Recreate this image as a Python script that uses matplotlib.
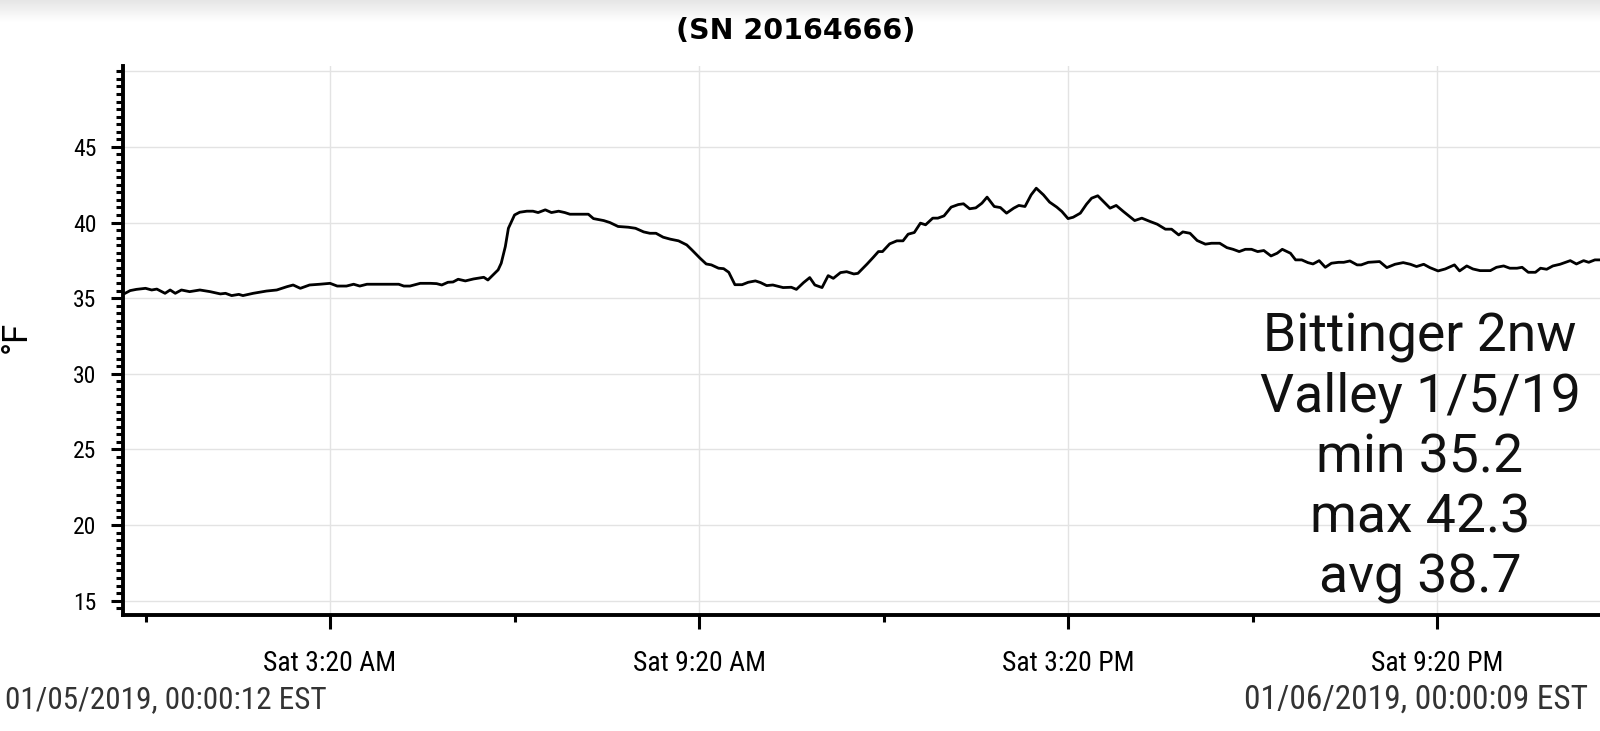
import matplotlib
matplotlib.use("Agg")
import matplotlib.pyplot as plt
import numpy as np
from matplotlib.ticker import FixedLocator, MultipleLocator

# ---------------- data ----------------
# minutes after 00:00 on 01/05/2019
minutes = [0, 5, 11, 20, 26, 31, 39, 44, 49, 55, 63, 73, 83, 93, 98, 104, 111, 115, 125, 138,
           148, 158, 164, 171, 180, 190, 200, 207, 216, 223, 229, 236, 249,
           259, 267, 272, 278, 288, 298, 304, 309, 315, 320, 325, 332, 340, 350, 354, 359, 364,
           367, 371, 374, 380, 385, 392, 398, 403, 410, 416, 423, 429, 434, 444, 452, 457, 467,
           473, 481, 491,
           498, 506, 512, 518, 525, 532, 540, 548, 553, 561, 567, 572, 579, 584, 589, 595, 602,
           608, 615, 620, 626, 632, 642, 650, 655, 662, 668, 673, 680, 686, 691, 698, 704, 711,
           715, 724, 730, 735,
           739, 746, 753, 759, 764, 770, 776, 781, 788, 793, 799, 806, 813, 818, 824, 830, 836,
           841, 848, 854, 860, 867, 872, 878, 884, 889, 896, 902, 909, 914, 920, 925, 932, 938,
           943, 949, 954, 961, 967, 974, 980,
           985, 992, 1000, 1007, 1015, 1021, 1028, 1032, 1039, 1046, 1054, 1060, 1068, 1075,
           1081, 1087, 1093, 1099, 1105, 1111, 1118, 1124, 1129, 1137, 1142, 1148, 1154, 1159,
           1165, 1171, 1177, 1184, 1189, 1195, 1202, 1206, 1213, 1224,
           1231, 1239, 1247, 1254, 1260, 1267, 1273, 1281, 1288, 1297, 1302, 1309, 1315, 1322,
           1332, 1338, 1345, 1351, 1358, 1363, 1369, 1376, 1381, 1387, 1393, 1400, 1410, 1416,
           1423, 1428, 1434, 1439]

temps_f = [35.32, 35.5, 35.58, 35.65, 35.54, 35.6, 35.32, 35.54, 35.32, 35.54, 35.43, 35.54, 35.43,
           35.28, 35.32, 35.17, 35.25, 35.17, 35.32, 35.47, 35.54, 35.76, 35.87, 35.65, 35.87,
           35.92, 35.98, 35.8, 35.8, 35.92, 35.8, 35.92, 35.92,
           35.92, 35.92, 35.8, 35.8, 35.98, 35.98, 35.96, 35.87, 36.05, 36.07, 36.25, 36.14, 36.27,
           36.38, 36.2, 36.53, 36.87, 37.31, 38.41, 39.62, 40.5, 40.68, 40.75, 40.75, 40.66, 40.84,
           40.66, 40.75, 40.66, 40.55, 40.55, 40.55, 40.26, 40.13, 40.0, 39.74, 39.69,
           39.62, 39.38, 39.29, 39.29, 39.03, 38.9, 38.79, 38.52, 38.19, 37.64, 37.26, 37.2, 36.98,
           36.95, 36.71, 35.89, 35.89, 36.05, 36.14, 36.03, 35.83, 35.87, 35.7, 35.72, 35.58, 36.03,
           36.36, 35.87, 35.7, 36.49, 36.31, 36.69, 36.75, 36.6, 36.64, 37.26, 37.7, 38.08,
           38.08, 38.59, 38.79, 38.79, 39.23, 39.34, 39.96, 39.85, 40.29, 40.29, 40.44, 41.02, 41.19,
           41.24, 40.91, 40.97, 41.28, 41.68, 41.06, 40.99, 40.62, 40.95, 41.13, 41.06, 41.83, 42.27,
           41.83, 41.35, 41.02, 40.73, 40.26, 40.35, 40.62, 41.21, 41.61, 41.77, 41.43, 40.95, 41.13,
           40.73, 40.4,
           40.13, 40.29, 40.07, 39.89, 39.56, 39.56, 39.18, 39.38, 39.29, 38.81, 38.57, 38.63, 38.63,
           38.34, 38.23, 38.08, 38.23, 38.23, 38.08, 38.15, 37.79, 37.97, 38.23, 37.97, 37.53, 37.53,
           37.35, 37.26, 37.48, 37.04, 37.31, 37.37, 37.37, 37.46, 37.2, 37.2, 37.37, 37.42,
           37.02, 37.24, 37.35, 37.24, 37.09, 37.24, 37.02, 36.8, 36.93, 37.2, 36.8, 37.13, 36.93,
           36.82, 36.82, 37.04, 37.13, 36.98, 36.98, 37.04, 36.71, 36.71, 36.98, 36.91, 37.13, 37.24,
           37.48, 37.26, 37.48, 37.37, 37.53, 37.53]

major_x_ticks = [200, 560, 920, 1280]
major_x_labels = ["Sat 3:20 AM", "Sat 9:20 AM", "Sat 3:20 PM", "Sat 9:20 PM"]
minor_x_ticks = [20, 380, 740, 1100]
y_ticks = [15, 20, 25, 30, 35, 40, 45]
title = "(SN 20164666)"
y_label = "°F"
annotation = "Bittinger 2nw\nValley 1/5/19\nmin 35.2\nmax 42.3\navg 38.7"
start_label = "01/05/2019, 00:00:12 EST"
end_label = "01/06/2019, 00:00:09 EST"

# ---------------- style ----------------
COND = ["Roboto Condensed", "Liberation Sans Narrow", "Roboto", "DejaVu Sans"]
REG = ["Roboto", "DejaVu Sans"]
plt.rcParams["font.family"] = COND

W, H = 1600, 731
fig = plt.figure(figsize=(W / 100, H / 100), dpi=100)
fig.patch.set_facecolor("white")

# top gray shadow band
band = fig.add_axes([0, 1 - 22 / H, 1, 22 / H])
grad = np.linspace(0.90, 1.0, 50).reshape(-1, 1)
band.imshow(grad, aspect="auto", cmap="gray", vmin=0, vmax=1, extent=[0, 1, 0, 1], origin="upper")
band.axis("off")

ax_l, ax_b = 123 / W, 116 / H
ax = fig.add_axes([ax_l, ax_b, 1 - ax_l, (615 - 66) / H])
ax.set_zorder(2)

ax.plot(minutes, temps_f, color="black", lw=2.0, solid_joinstyle="round", zorder=3)

ax.set_xlim(-2, 1439)
ax.set_ylim(14.05, 50.35)

ax.xaxis.set_major_locator(FixedLocator(major_x_ticks))
ax.set_xticklabels(major_x_labels)
ax.xaxis.set_minor_locator(FixedLocator(minor_x_ticks))
ax.yaxis.set_major_locator(FixedLocator(y_ticks))
ax.yaxis.set_minor_locator(MultipleLocator(0.5))

ax.grid(True, which="major", color="#e3e3e3", lw=1.0, zorder=0)
ax.axhline(50, color="#e3e3e3", lw=1.0, zorder=0)

for s in ["top", "right"]:
    ax.spines[s].set_visible(False)
for s in ["left", "bottom"]:
    ax.spines[s].set_linewidth(2.8)
    ax.spines[s].set_color("black")

ax.tick_params(axis="y", which="major", length=9, width=2.2, pad=10, labelsize=17, colors="black")
ax.tick_params(axis="y", which="minor", length=5, width=2.2)
ax.tick_params(axis="x", which="major", length=10, width=2.2, pad=15, labelsize=20, colors="black")
ax.tick_params(axis="x", which="minor", length=5, width=2.2)

fig.text(796 / W, 1 - 31 / H, title, ha="center", va="center", fontsize=20.5,
         fontweight="bold", family=["DejaVu Sans"])
fig.text(16 / W, 1 - 337 / H, y_label, rotation=90, ha="center", va="center", fontsize=25,
         family=REG)

ax.text(1420 / W, 1 - 458 / H, annotation, transform=fig.transFigure, ha="center", va="center",
        fontsize=38.5, linespacing=1.23, color="#111111", zorder=4, family=REG)

fig.text(5 / W, 1 - 700 / H, start_label, ha="left", va="center", fontsize=22.5, color="#333333")
fig.text(1588 / W, 1 - 700 / H, end_label, ha="right", va="center", fontsize=24, color="#333333")

fig.savefig("out.png", dpi=100, facecolor="white")
